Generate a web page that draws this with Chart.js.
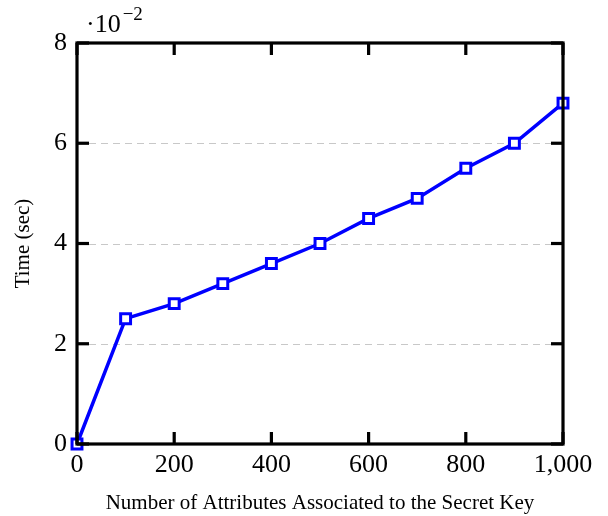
<!DOCTYPE html>
<html><head><meta charset="utf-8">
<script src="https://cdn.jsdelivr.net/npm/chart.js@4/dist/chart.umd.min.js"></script>
<style>html,body{margin:0;padding:0;background:#fff}#wrap{width:608px;height:516px}</style>
</head><body><div id="wrap"><canvas id="c" width="608" height="516"></canvas></div>
<script>
const attributes = [0, 100, 200, 300, 400, 500, 600, 700, 800, 900, 1000];
const timeValues = [0, 2.5, 2.8, 3.2, 3.6, 4.0, 4.5, 4.9, 5.5, 6.0, 6.8];
const xTicks = [0, 200, 400, 600, 800, 1000];
const yTicks = [0, 2, 4, 6, 8];
const xTitle = 'Number of Attributes Associated to the Secret Key';
const yTitle = 'Time (sec)';

const FONT = '"Liberation Serif", "DejaVu Serif", serif';

const framePlugin = {
  id: 'frame',
  beforeDatasetsDraw(chart) {
    const {ctx, chartArea: a, scales: {x, y}} = chart;
    ctx.save();
    ctx.strokeStyle = '#c8c8c8';
    ctx.lineWidth = 1;
    ctx.setLineDash([7, 5]);
    yTicks.forEach(v => {
      if (v === 0 || v === 8) return;
      const py = Math.round(y.getPixelForValue(v)) + 0.5;
      ctx.beginPath(); ctx.moveTo(a.left, py); ctx.lineTo(a.right, py); ctx.stroke();
    });
    ctx.restore();
  },
  afterDatasetsDraw(chart) {
    const {ctx, chartArea: a, scales: {x, y}} = chart;
    ctx.save();
    ctx.strokeStyle = '#000';
    ctx.lineWidth = 3.2;
    ctx.setLineDash([]);
    const L = 12;
    xTicks.forEach(v => {
      const px = x.getPixelForValue(v);
      ctx.beginPath(); ctx.moveTo(px, a.bottom); ctx.lineTo(px, a.bottom - L); ctx.stroke();
      ctx.beginPath(); ctx.moveTo(px, a.top); ctx.lineTo(px, a.top + L); ctx.stroke();
    });
    yTicks.forEach(v => {
      const py = y.getPixelForValue(v);
      ctx.beginPath(); ctx.moveTo(a.left, py); ctx.lineTo(a.left + L, py); ctx.stroke();
      ctx.beginPath(); ctx.moveTo(a.right, py); ctx.lineTo(a.right - L, py); ctx.stroke();
    });
    ctx.strokeRect(a.left, a.top, a.right - a.left, a.bottom - a.top);
    // exponent label
    ctx.fillStyle = '#000';
    ctx.textBaseline = 'alphabetic';
    ctx.textAlign = 'left';
    ctx.font = '26px ' + FONT;
    const bx = 86, by = 32;
    ctx.fillText('\u00B710', bx, by);
    const w = ctx.measureText('\u00B710').width;
    ctx.font = '19px ' + FONT;
    ctx.fillText('\u22122', bx + w + 2, by - 12);
    ctx.restore();
  }
};

new Chart(document.getElementById('c'), {
  type: 'line',
  data: {
    datasets: [{
      data: attributes.map((a, i) => ({x: a, y: timeValues[i]})),
      borderColor: '#0000ff',
      backgroundColor: '#ffffff',
      borderWidth: 3.5,
      pointStyle: 'rect',
      pointRadius: 7,
      pointBorderWidth: 3,
      pointBackgroundColor: '#ffffff',
      pointBorderColor: '#0000ff',
      tension: 0,
      clip: false
    }]
  },
  options: {
    responsive: false,
    animation: false,
    devicePixelRatio: 1,
    layout: {autoPadding: false, padding: {left: 0, right: 45, top: 43, bottom: 0}},
    plugins: {legend: {display: false}, tooltip: {enabled: false}},
    scales: {
      x: {
        type: 'linear', min: 0, max: 1000,
        afterBuildTicks: s => { s.ticks = xTicks.map(v => ({value: v})); },
        afterFit: s => { s.height = 72; },
        grid: {display: false, drawTicks: false},
        border: {display: false},
        ticks: {
          padding: 6, color: '#000', maxRotation: 0,
          font: {family: FONT, size: 26},
          callback: v => v.toLocaleString('en-US')
        },
        title: {display: true, text: xTitle, color: '#000', font: {family: FONT, size: 21}, padding: {top: 0, bottom: 0}}
      },
      y: {
        type: 'linear', min: 0, max: 8,
        afterBuildTicks: s => { s.ticks = yTicks.map(v => ({value: v})); },
        afterFit: s => { s.width = 77; },
        grid: {display: false, drawTicks: false},
        border: {display: false},
        ticks: {
          padding: 10, color: '#000',
          font: {family: FONT, size: 26},
          callback: v => String(v)
        },
        title: {display: true, text: yTitle, color: '#000', font: {family: FONT, size: 21}, padding: {top: 11, bottom: 0}}
      }
    }
  },
  plugins: [framePlugin]
});
</script></body></html>
